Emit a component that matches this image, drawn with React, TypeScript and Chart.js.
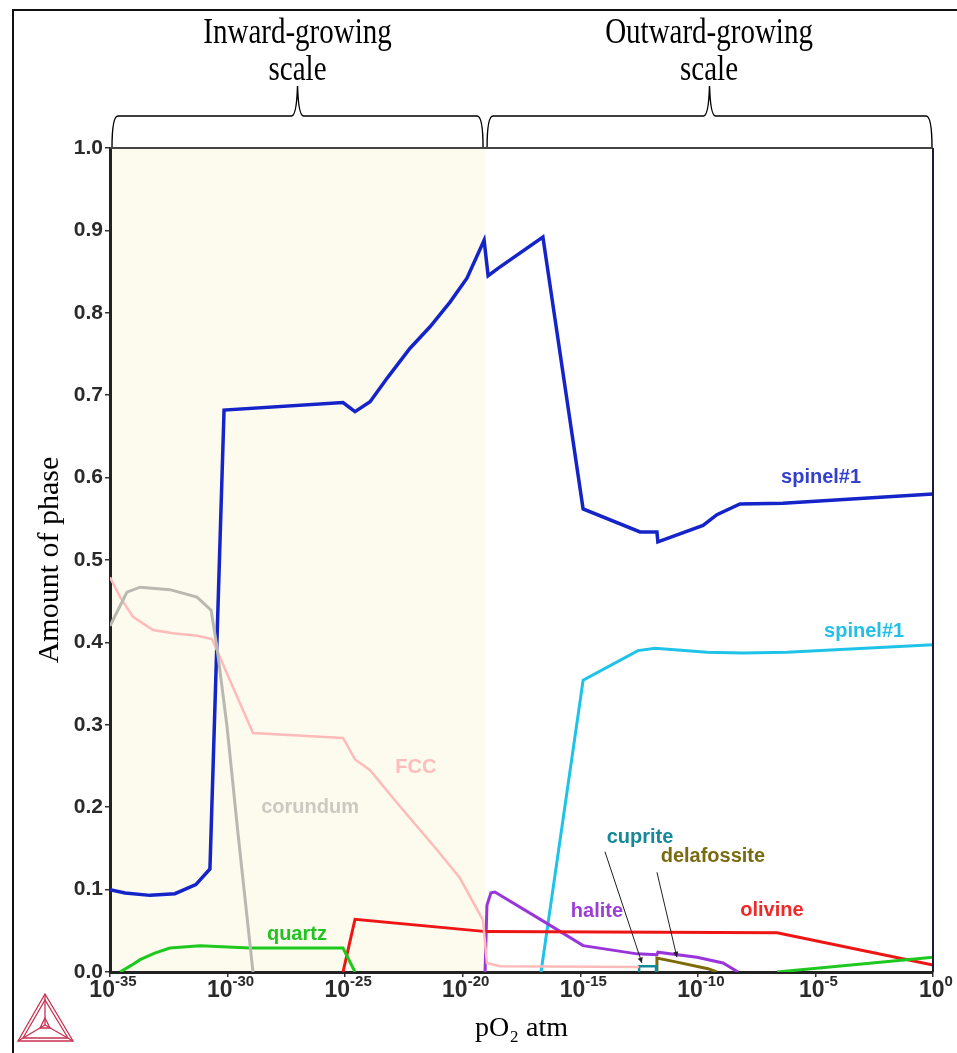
import React, { useEffect, useRef } from "react";
import { Chart, registerables } from "chart.js";

Chart.register(...registerables);

// ---- axes ----
const xTickExponents = [-35, -30, -25, -20, -15, -10, -5, 0];
const yTickValues = [0, 0.1, 0.2, 0.3, 0.4, 0.5, 0.6, 0.7, 0.8, 0.9, 1.0];
const inwardLimit = -19.05; // log10 pO2 where inward / outward scale meet

// ---- series (x = log10 pO2, y = amount of phase) ----
const spinelBlueX = [-35, -34.36, -33.3, -32.24, -31.35, -30.75, -30.15, -25.09, -24.58, -23.94, -23.18, -22.24, -21.39, -20.54, -19.82, -19.09, -18.92, -18.5, -16.59, -14.88, -12.46, -11.74, -11.7, -9.78, -9.19, -8.21, -6.38, 0];
const spinelBlueY = [0.1, 0.096, 0.093, 0.095, 0.106, 0.125, 0.682, 0.691, 0.68, 0.692, 0.722, 0.757, 0.783, 0.813, 0.842, 0.888, 0.845, 0.854, 0.892, 0.562, 0.534, 0.534, 0.522, 0.542, 0.555, 0.568, 0.569, 0.58];

const spinelCyanX = [-16.67, -14.88, -12.55, -11.82, -9.61, -8.08, -6.21, 0];
const spinelCyanY = [0, 0.354, 0.39, 0.393, 0.388, 0.387, 0.388, 0.397];

const corundumX = [-35, -34.91, -34.28, -33.72, -32.45, -31.3, -30.7, -30.45, -30.02, -29.56, -28.92];
const corundumY = [0.42, 0.425, 0.461, 0.467, 0.464, 0.455, 0.439, 0.394, 0.297, 0.169, 0];

const fccX = [-35, -34.57, -34.02, -33.17, -32.32, -31.3, -30.66, -29.9, -28.92, -25.09, -24.58, -23.94, -22.79, -21.09, -20.12, -19.14, -18.97, -18.41, -12.5];
const fccY = [0.479, 0.455, 0.431, 0.415, 0.411, 0.408, 0.404, 0.354, 0.29, 0.284, 0.258, 0.245, 0.205, 0.148, 0.114, 0.063, 0.011, 0.007, 0.006];

const quartzX = [-34.57, -34.1, -33.72, -33.1, -32.45, -31.17, -29.05, -25.09, -24.58, -15, -6.63, 0];
const quartzY = [0, 0.008, 0.015, 0.023, 0.029, 0.032, 0.029, 0.029, 0, null, 0, 0.018];

const olivineX = [-25.09, -24.58, -19.0, -6.63, 0];
const olivineY = [0, 0.064, 0.049, 0.0475, 0.0085];

const haliteX = [-19.05, -18.97, -18.8, -18.63, -16.42, -14.88, -12.59, -11.74, -11.7, -10.04, -8.93, -8.29];
const haliteY = [0, 0.081, 0.096, 0.097, 0.059, 0.032, 0.022, 0.021, 0.024, 0.018, 0.011, 0];

const cupriteX = [-12.5, -12.5, -11.78, -11.78];
const cupriteY = [0, 0.007, 0.007, 0];

const delafossiteX = [-11.74, -11.74, -10.89, -9.57, -9.19];
const delafossiteY = [0, 0.017, 0.012, 0.004, 0];

// ---- phase labels (text, colour, anchor in data units) ----
const labelTexts = ["spinel#1", "spinel#1", "FCC", "corundum", "quartz", "halite", "olivine", "cuprite", "delafossite"];
const labelColors = ["#3340cc", "#22bfe6", "#ffbcbc", "#cacac2", "#22c222", "#9b3ed8", "#f02828", "#15889a", "#7a6a10"];
const labelX = [-4.76, -2.93, -21.99, -26.49, -27.05, -14.29, -6.85, -12.46, -9.36];
const labelY = [0.6, 0.413, 0.248, 0.2, 0.045, 0.074, 0.075, 0.163, 0.14];

// ---- pointer arrows (from -> to, data units) ----
const arrowFromX = [-13.95, -11.74];
const arrowFromY = [0.146, 0.121];
const arrowToX = [-12.38, -10.89];
const arrowToY = [0.011, 0.018];

const regionTitles = [["Inward-growing", "scale"], ["Outward-growing", "scale"]];

const xTickBase = "10";
const xTickExponentText = xTickExponents.map((e) => String(e));

const pts = (xs: number[], ys: (number | null)[]) => xs.map((x, i) => ({ x, y: ys[i] }));

const SANS = "'Liberation Sans', Arial, Helvetica, sans-serif";
const SERIF = "'Liberation Serif', 'Times New Roman', serif";

const decorPlugin = {
  id: "decor",
  beforeDraw(chart: any) {
    const { ctx, chartArea, scales } = chart;
    const xs = scales.x;
    ctx.save();
    ctx.fillStyle = "#ffffff";
    ctx.fillRect(0, 0, chart.width, chart.height);
    // outer frame
    ctx.strokeStyle = "#111";
    ctx.lineWidth = 2;
    ctx.beginPath();
    ctx.moveTo(13, chart.height);
    ctx.lineTo(13, 10);
    ctx.lineTo(chart.width, 10);
    ctx.stroke();
    // inward-growing shaded region
    const xr = xs.getPixelForValue(inwardLimit);
    ctx.fillStyle = "#fdfbee";
    ctx.fillRect(chartArea.left, chartArea.top, xr - chartArea.left, chartArea.bottom - chartArea.top);
    // braces
    const brace = (x1: number, x2: number) => {
      const yb = chartArea.top;
      const ym = 116;
      const yt = 86;
      const xm = (x1 + x2) / 2;
      ctx.beginPath();
      ctx.moveTo(x1, yb);
      ctx.quadraticCurveTo(x1, ym, x1 + 6, ym);
      ctx.lineTo(xm - 6, ym);
      ctx.quadraticCurveTo(xm - 1, ym, xm, yt);
      ctx.quadraticCurveTo(xm + 1, ym, xm + 6, ym);
      ctx.lineTo(x2 - 6, ym);
      ctx.quadraticCurveTo(x2, ym, x2, yb);
      ctx.stroke();
    };
    ctx.strokeStyle = "#000";
    ctx.lineWidth = 1.4;
    brace(chartArea.left + 2, xr - 2);
    brace(xr + 2, chartArea.right - 1);
    // region titles
    ctx.fillStyle = "#000";
    ctx.font = `29px ${SERIF}`;
    ctx.textAlign = "center";
    ctx.textBaseline = "alphabetic";
    const centers = [(chartArea.left + xr) / 2, (xr + chartArea.right) / 2];
    regionTitles.forEach((lines, i) => {
      lines.forEach((t, j) => {
        ctx.save();
        ctx.scale(1, 1.25);
        ctx.fillText(t, centers[i], (43 + j * 37) / 1.25);
        ctx.restore();
      });
    });
    // logo
    ctx.strokeStyle = "#c83050";
    ctx.lineWidth = 1.3;
    const T = [45, 994], L = [18, 1041], R = [73, 1041], C = [45, 1025];
    const tri = (a: number[], b: number[], c: number[]) => {
      ctx.beginPath();
      ctx.moveTo(a[0], a[1]);
      ctx.lineTo(b[0], b[1]);
      ctx.lineTo(c[0], c[1]);
      ctx.closePath();
      ctx.stroke();
    };
    tri(T, L, R);
    tri([45, 1000], [23, 1038], [68, 1038]);
    [T, L, R].forEach((p) => {
      ctx.beginPath();
      ctx.moveTo(p[0], p[1]);
      ctx.lineTo(C[0], C[1]);
      ctx.stroke();
    });
    tri([45, 1018], [40, 1028], [50, 1028]);
    ctx.restore();
  },
  afterDatasetsDraw(chart: any) {
    const { ctx, chartArea, scales } = chart;
    const xs = scales.x, ys = scales.y;
    ctx.save();
    // top & right plot border
    ctx.lineWidth = 2;
    ctx.strokeStyle = "#444";
    ctx.beginPath();
    ctx.moveTo(chartArea.left, chartArea.top);
    ctx.lineTo(chartArea.right, chartArea.top);
    ctx.stroke();
    ctx.strokeStyle = "#1a1a3a";
    ctx.beginPath();
    ctx.moveTo(chartArea.right, chartArea.top);
    ctx.lineTo(chartArea.right, chartArea.bottom);
    ctx.stroke();
    // arrows
    ctx.strokeStyle = "#222";
    ctx.fillStyle = "#222";
    ctx.lineWidth = 1;
    arrowFromX.forEach((_, i) => {
      const x1 = xs.getPixelForValue(arrowFromX[i]);
      const y1 = ys.getPixelForValue(arrowFromY[i]);
      const x2 = xs.getPixelForValue(arrowToX[i]);
      const y2 = ys.getPixelForValue(arrowToY[i]);
      ctx.beginPath();
      ctx.moveTo(x1, y1);
      ctx.lineTo(x2, y2);
      ctx.stroke();
      const a = Math.atan2(y2 - y1, x2 - x1);
      ctx.beginPath();
      ctx.moveTo(x2, y2);
      ctx.lineTo(x2 - 6 * Math.cos(a - 0.45), y2 - 6 * Math.sin(a - 0.45));
      ctx.lineTo(x2 - 6 * Math.cos(a + 0.45), y2 - 6 * Math.sin(a + 0.45));
      ctx.closePath();
      ctx.fill();
    });
    // phase labels
    ctx.font = `bold 20px ${SANS}`;
    ctx.textAlign = "center";
    ctx.textBaseline = "middle";
    labelTexts.forEach((t, i) => {
      ctx.fillStyle = labelColors[i];
      ctx.fillText(t, xs.getPixelForValue(labelX[i]), ys.getPixelForValue(labelY[i]));
    });
    // x tick labels: 10 with superscript exponent
    ctx.fillStyle = "#2a2a2a";
    ctx.textBaseline = "alphabetic";
    ctx.textAlign = "left";
    const baseFont = `bold 23px ${SANS}`;
    const expFont = `bold 15px ${SANS}`;
    xTickExponents.forEach((e, i) => {
      const px = xs.getPixelForValue(e);
      ctx.font = baseFont;
      const wb = ctx.measureText(xTickBase).width;
      ctx.font = expFont;
      const we = ctx.measureText(xTickExponentText[i]).width;
      const x0 = px + 3 - (wb + we) / 2;
      ctx.font = baseFont;
      ctx.fillText(xTickBase, x0, chartArea.bottom + 25);
      ctx.font = expFont;
      ctx.fillText(xTickExponentText[i], x0 + wb, chartArea.bottom + 14);
    });
    ctx.restore();
  },
};

const line = (label: string, xs: number[], ys: (number | null)[], color: string, width = 3) => ({
  label,
  data: pts(xs, ys),
  borderColor: color,
  backgroundColor: color,
  borderWidth: width,
  pointRadius: 0,
  tension: 0,
  fill: false,
  spanGaps: false,
});

export default function App() {
  const ref = useRef<HTMLCanvasElement>(null);
  useEffect(() => {
    if (!ref.current) return;
    const chart = new Chart(ref.current, {
      type: "line",
      data: {
        datasets: [
          line("corundum", corundumX, corundumY, "#b9b9b1", 3),
          line("FCC", fccX, fccY, "#ffbaba", 2.5),
          line("quartz", quartzX, quartzY, "#1ec81e", 3),
          line("olivine", olivineX, olivineY, "#ee1515", 3),
          line("halite", haliteX, haliteY, "#9a35dc", 3),
          line("cuprite", cupriteX, cupriteY, "#128a9c", 2.5),
          line("delafossite", delafossiteX, delafossiteY, "#7d6a08", 3),
          line("spinel#1 (cyan)", spinelCyanX, spinelCyanY, "#1fc3e8", 3),
          line("spinel#1", spinelBlueX, spinelBlueY, "#1424c8", 3.5),
        ] as any,
      },
      options: {
        animation: false,
        responsive: false,
        maintainAspectRatio: false,
        layout: { padding: { left: 32, top: 148, right: 24, bottom: 8 } },
        plugins: { legend: { display: false }, tooltip: { enabled: false } },
        scales: {
          x: {
            type: "linear",
            min: -35,
            max: 0,
            afterFit: (s: any) => { s.height = 73; },
            afterBuildTicks: (s: any) => { s.ticks = xTickExponents.map((v) => ({ value: v })); },
            ticks: { display: false },
            grid: { drawOnChartArea: false, tickLength: 5, color: "#333", lineWidth: 1.5 },
            border: { display: true, color: "#222", width: 3 },
            title: {
              display: true,
              text: "pO\u2082 atm",
              color: "#000",
              font: { family: SERIF, size: 28, weight: "normal" },
              padding: { top: 0, bottom: 0 },
            },
          },
          y: {
            type: "linear",
            min: 0,
            max: 1,
            afterFit: (s: any) => { s.width = 78; },
            afterBuildTicks: (s: any) => { s.ticks = yTickValues.map((v) => ({ value: v })); },
            ticks: {
              padding: 2,
              color: "#2a2a2a",
              font: { family: SANS, size: 21, weight: "bold" },
              callback: (v: any) => Number(v).toFixed(1),
            },
            grid: { drawOnChartArea: false, tickLength: 5, color: "#333", lineWidth: 1.5 },
            border: { display: true, color: "#222", width: 3 },
            title: {
              display: true,
              text: "Amount of phase",
              color: "#000",
              font: { family: SERIF, size: 30, weight: "normal" },
              padding: { top: 0, bottom: 0 },
            },
          },
        },
      } as any,
      plugins: [decorPlugin],
    });
    return () => chart.destroy();
  }, []);
  return (
    <div style={{ position: "fixed", left: 0, top: 0, width: 957, height: 1053, background: "#fff" }}>
      <canvas ref={ref} width={957} height={1053} style={{ width: 957, height: 1053, display: "block" }} />
    </div>
  );
}
